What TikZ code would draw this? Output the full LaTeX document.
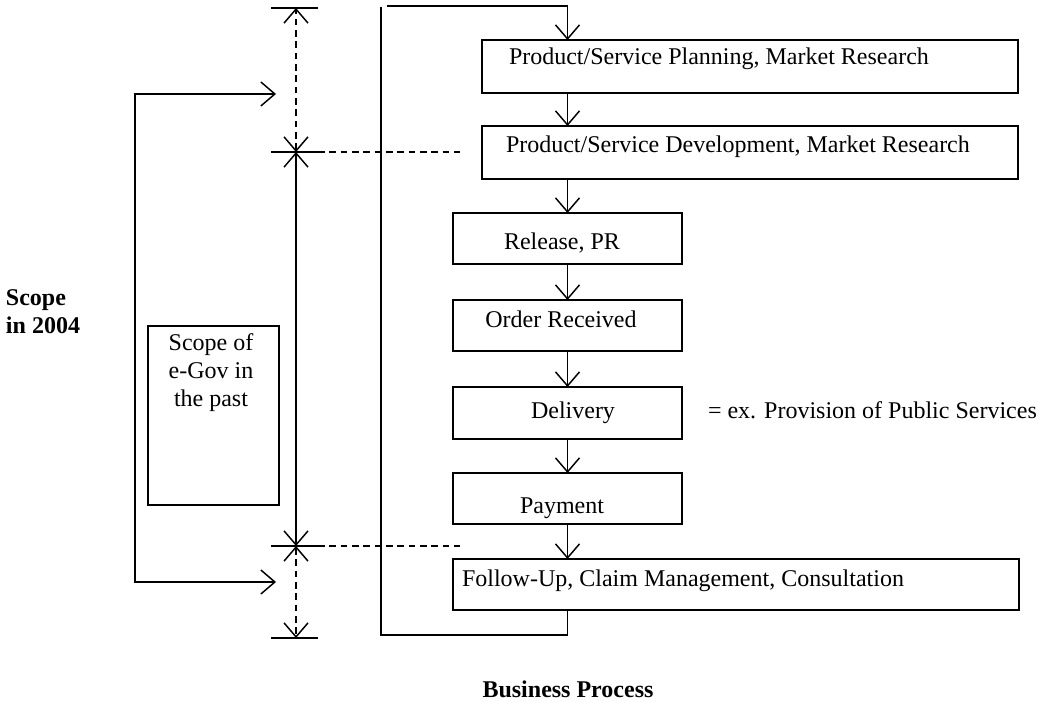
\documentclass[tikz,border=0pt]{standalone}
\usepackage{fontspec}
\setmainfont{Liberation Serif}
\usetikzlibrary{arrows.meta}
\begin{document}
\begin{tikzpicture}[x=0.75pt,y=-0.75pt,
  line width=1.1pt,
  every node/.style={inner sep=0pt,outer sep=0pt,font=\fontsize{18}{20.5}\selectfont},
  box/.style={draw,rectangle,line width=1.1pt},
  arr/.style={-{Straight Barb[length=10.5pt,width=18pt]}},
  darr/.style={{Straight Barb[length=10.5pt,width=18pt]}-{Straight Barb[length=10.5pt,width=18pt]}},
  dsh/.style={dash pattern=on 5pt off 3.5pt},
  bold/.style={font=\fontsize{18}{21}\selectfont\bfseries}]
\useasboundingbox (0,0) rectangle (1039,702);
% process boxes
\node[box,minimum width=536*0.75pt,minimum height=53*0.75pt] (b1) at (750,66.5) {};
\node[box,minimum width=536*0.75pt,minimum height=53*0.75pt] (b2) at (750,152.5) {};
\node[box,minimum width=229*0.75pt,minimum height=51*0.75pt] (b3) at (567.5,238.5) {};
\node[box,minimum width=229*0.75pt,minimum height=51*0.75pt] (b4) at (567.5,325.5) {};
\node[box,minimum width=229*0.75pt,minimum height=52*0.75pt] (b5) at (567.5,413) {};
\node[box,minimum width=229*0.75pt,minimum height=51*0.75pt] (b6) at (567.5,498.5) {};
\node[box,minimum width=566*0.75pt,minimum height=51*0.75pt] (b7) at (736,584.5) {};
% texts
\node[anchor=base west] (t1) at (509,65) {Product/Service Planning, Market Research};
\node[anchor=base west] (t2) at (506,153) {Product/Service Development, Market Research};
\node[anchor=base] (t3) at (562,250) {Release, PR};
\node[anchor=base] (t4) at (561,328) {Order Received};
\node[anchor=base] (t5) at (573,418) {Delivery};
\node[anchor=base] (t6) at (562,513) {Payment};
\node[anchor=base west] (t7) at (462,586) {Follow-Up, Claim Management, Consultation};
\node[anchor=base west] (ex) at (708,418) {= ex. Provision of Public Services};
% arrows in the process
\draw[arr] (b1.south -| b3.north) -- (b2.north -| b3.north);
\draw[arr] (b2.south -| b3.north) -- (b3.north);
\draw[arr] (b3) -- (b4);
\draw[arr] (b4) -- (b5);
\draw[arr] (b5) -- (b6);
\draw[arr] (b6.south) -- (b7.north -| b6.south);
% frame loop
\coordinate (ftop) at (387,6);
\coordinate (fl) at (381,7);
\coordinate (fb) at (381,635);
\draw[arr] (ftop) -| (b1.north -| b3.north);
\draw (fl) -- (fb) -| (b7.south -| b3.south);
% dimension lines
\coordinate (d0) at (296,8);
\coordinate (d1) at (296,152);
\coordinate (d2) at (296,546);
\coordinate (d3) at (296,638);
\foreach \c in {d0,d1,d2,d3} \draw ([xshift=-25*0.75pt]\c) -- ([xshift=22*0.75pt]\c);
\draw[darr,dsh] (d1) -- (d0);
\draw[darr] (d1) -- (d2);
\draw[darr,dsh] (d2) -- (d3);
\coordinate (e1) at (460,152);
\coordinate (e2) at (460,546);
\draw[dsh] ([xshift=22*0.75pt]d1) -- (e1);
\draw[dsh] ([xshift=22*0.75pt]d2) -- (e2);
% bracket
\coordinate (k1) at (276,94);
\coordinate (k2) at (276,582);
\draw[darr] (k1) -| (135,582) -- (k2);
% past scope box
\node[box,minimum width=131*0.75pt,minimum height=179*0.75pt] (past) at (213.5,415.5) {};
\node[align=center,font=\fontsize{18}{21}\selectfont] (pt) at (211,373) {Scope of\\e-Gov in\\the past};
% labels
\node[bold,align=left,anchor=west] (s2004) at (6,312) {Scope\\in 2004};
\node[bold,anchor=base] (bp) at (568,697) {Business Process};
\end{tikzpicture}
\end{document}
